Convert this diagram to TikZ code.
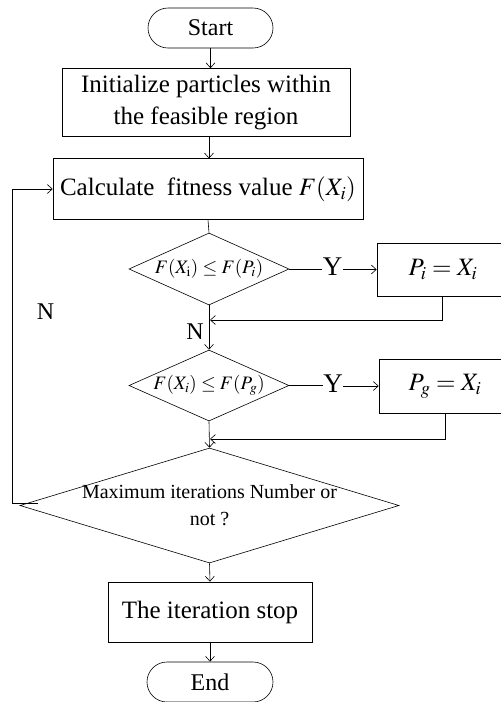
\documentclass[tikz,border=0pt]{standalone}
\usepackage{mathptmx}
\usepackage{fontspec}
\setmainfont{Liberation Serif}
\usetikzlibrary{arrows.meta, shapes.geometric, shapes.misc}

\begin{document}
\begin{tikzpicture}[
  x=1pt, y=-1pt,
  line width=0.6pt,
  every node/.style={font=\fontsize{25}{32}\selectfont, inner sep=0pt},
  procbox/.style={draw, rectangle, align=center},
  termbox/.style={draw, rounded rectangle, minimum width=125pt, minimum height=40pt,
    font=\fontsize{24}{28}\selectfont},
  decide/.style={draw, diamond},
  condtext/.style={font=\fontsize{19}{22}\selectfont},
  flow/.style={-{Straight Barb[length=5pt,width=9pt]}}
]
\useasboundingbox (0,0) rectangle (501,702);

% nodes
\node[termbox] (start) at (210.5,28) {Start};
\node[procbox, minimum width=288pt, minimum height=68pt] (init) at (206,102.5)
  {Initialize particles within\\the feasible region};
\node[procbox, minimum width=310pt, minimum height=61pt] (calc) at (208,189)
  {Calculate\ \ fitness value $F(X_i)$};
\node[decide, minimum width=160pt, minimum height=72pt,
  label={[condtext]center:$F(X_{\mathrm{i}})\le F(P_i)$}] (test1) at (209,269) {};
\node[procbox, minimum width=132pt, minimum height=53pt] (upd1) at (443,269.5) {$P_i = X_i$};
\node[decide, minimum width=160pt, minimum height=71pt,
  label={[condtext]center:$F(X_i)\le F(P_g)$}] (test2) at (209,385.5) {};
\node[procbox, minimum width=132pt, minimum height=54pt] (upd2) at (445,386) {$P_g = X_i$};
\node[decide, minimum width=379pt, minimum height=115pt,
  label={[align=center, font=\fontsize{20}{27}\selectfont]center:Maximum iterations Number or\\not ?}]
  (maxit) at (209.5,505.5) {};
\node[procbox, minimum width=204pt, minimum height=60pt] (stop) at (210,612) {The iteration stop};
\node[termbox, minimum width=126pt] (end) at (210,682) {End};

% labels
\node[font=\fontsize{27}{27}\selectfont] (yes1) at (332.5,266.5) {Y};
\node[font=\fontsize{27}{27}\selectfont] (yes2) at (333,384) {Y};
\node[font=\fontsize{24}{24}\selectfont] (no1) at (195,332) {N};
\node[font=\fontsize{24}{24}\selectfont] (no2) at (45.5,312) {N};

% joints
\coordinate (join1) at (210,320);
\coordinate (join2) at (210,439);
\coordinate (loopc) at (12,503);

% connectors
\draw[flow] (start.south) -- (start.south |- init.north);
\draw[flow] (209,136.5) -- (209,158.5);
\draw (calc.south) -- (test1.north);
\draw (test1.east) -- (test1.east -| yes1.west);
\draw[flow] (yes1.east |- upd1.west) -- (upd1.west);
\draw[flow] ([xshift=-1pt]upd1.south) |- (join1);
\draw[flow] (test1.south) -- (test2.north);
\draw (test2.east) -- (test2.east -| yes2.west);
\draw[flow] (yes2.east |- upd2.west) -- (upd2.west);
\draw[flow] (upd2.south) |- (join2);
\draw[flow] (test2.south) -- (maxit.north);
\draw[flow] (38,503) -- (loopc) |- (calc.west);
\draw[flow] (maxit.south) -- (stop.north);
\draw[flow] (stop.south) -- (end.north);

\end{tikzpicture}
\end{document}
